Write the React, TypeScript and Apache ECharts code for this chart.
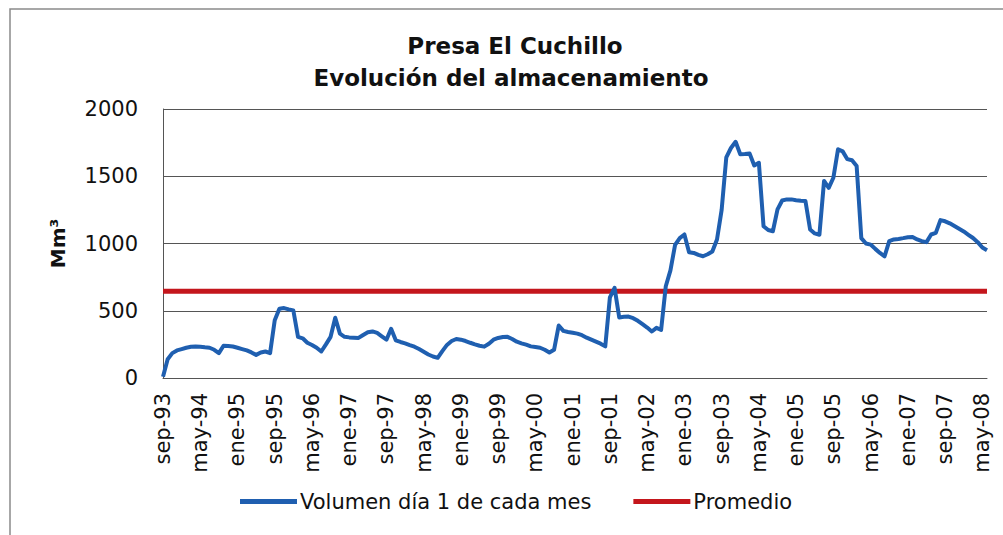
import React, { useEffect, useRef } from "react";
import * as echarts from "echarts";

const monthNames = ["ene", "feb", "mar", "abr", "may", "jun", "jul", "ago", "sep", "oct", "nov", "dic"];
const startMonth = 8; // sep
const startYear = 93;
const monthCount = 178;
const categories: string[] = [];
for (let i = 0; i < monthCount; i++) {
  const m = (startMonth + i) % 12;
  const y = (startYear + Math.floor((startMonth + i) / 12)) % 100;
  categories.push(monthNames[m] + "-" + String(y).padStart(2, "0"));
}

const volumen = [
  10, 140, 185, 205, 215, 225, 232, 235, 232, 228, 225, 210,
  185, 240, 238, 234, 225, 215, 205, 190, 172, 190, 197, 185,
  430, 515, 520, 510, 502, 306, 295, 262, 245, 225, 197, 250,
  306, 448, 330, 306, 302, 300, 298, 320, 340, 346, 335, 310,
  285, 366, 280, 268, 258, 245, 233, 215, 195, 175, 160, 150,
  200, 246, 275, 290, 285, 275, 262, 250, 240, 233, 255, 285,
  298, 305, 306, 290, 270, 258, 248, 235, 230, 225, 210, 190,
  210, 390, 350, 342, 336, 330, 318, 300, 285, 270, 255, 235,
  600, 670, 450, 455, 457, 445, 425, 400, 375, 346, 373, 358,
  682, 800, 990, 1040, 1067, 935, 930, 915, 905, 920, 940, 1030,
  1250, 1640, 1710, 1756, 1664, 1665, 1670, 1580, 1600, 1128, 1100, 1091,
  1254, 1320, 1328, 1328, 1322, 1318, 1316, 1104, 1075, 1065, 1465, 1414,
  1489, 1701, 1685, 1627, 1619, 1576, 1040, 1000, 992, 960, 930, 905,
  1017, 1030, 1034, 1040, 1047, 1049, 1030, 1017, 1010, 1067, 1079, 1174,
  1165, 1150, 1130, 1110, 1090, 1065, 1041, 1010, 970, 950,
];

const promedioValue = 645;
const promedio = categories.map(() => promedioValue);

const yTicks = { min: 0, max: 2000, interval: 500 };

export default function App() {
  const ref = useRef<HTMLDivElement>(null);
  useEffect(() => {
    if (!ref.current) return;
    const chart = echarts.init(ref.current, null, { renderer: "svg" });
    const font = "DejaVu Sans";
    chart.setOption({
      animation: false,
      backgroundColor: "#ffffff",
      textStyle: { fontFamily: font },
      grid: { left: 163, top: 109, right: 16, bottom: 157, containLabel: false },
      graphic: [
        {
          type: "rect",
          shape: { x: 10, y: 9, width: 1010, height: 560 },
          style: { fill: "none", stroke: "#8a8a8a", lineWidth: 1.5 },
          silent: true,
        },
        {
          type: "text",
          x: 515,
          y: 46,
          style: {
            text: "Presa El Cuchillo",
            font: "bold 23px 'DejaVu Sans'",
            fill: "#111",
            textAlign: "center",
            textVerticalAlign: "middle",
          },
        },
        {
          type: "text",
          x: 511,
          y: 78,
          style: {
            text: "Evolución del almacenamiento",
            font: "bold 23px 'DejaVu Sans'",
            fill: "#111",
            textAlign: "center",
            textVerticalAlign: "middle",
          },
        },
      ],
      legend: {
        bottom: 18,
        left: 235,
        itemWidth: 57,
        itemHeight: 5,
        itemGap: 42,
        icon: "rect",
        textStyle: { fontFamily: font, fontSize: 21, color: "#111", padding: [0, 0, 0, -2] },
        data: ["Volumen día 1 de cada mes", "Promedio"],
      },
      xAxis: {
        type: "category",
        data: categories,
        boundaryGap: false,
        axisLine: { show: true, lineStyle: { color: "#555", width: 1 } },
        axisTick: { show: false },
        axisLabel: {
          interval: 7,
          rotate: 90,
          fontFamily: font,
          fontSize: 21,
          color: "#111",
          margin: 15,
        },
        splitLine: { show: false },
      },
      yAxis: {
        type: "value",
        min: yTicks.min,
        max: yTicks.max,
        interval: yTicks.interval,
        name: "Mm³",
        nameLocation: "middle",
        nameGap: 95,
        nameTextStyle: { fontFamily: font, fontSize: 20, fontWeight: "bold", color: "#111" },
        axisLine: { show: true, lineStyle: { color: "#555", width: 1 } },
        axisTick: { show: false },
        axisLabel: {
          fontFamily: font,
          fontSize: 21,
          color: "#111",
          margin: 25,
          formatter: (v: number) => String(v),
        },
        splitLine: { show: true, lineStyle: { color: "#555", width: 1 } },
      },
      series: [
        {
          name: "Volumen día 1 de cada mes",
          type: "line",
          data: volumen,
          showSymbol: false,
          symbol: "none",
          itemStyle: { color: "#1f5fb0" },
          lineStyle: { color: "#1f5fb0", width: 4, join: "round" },
          z: 3,
        },
        {
          name: "Promedio",
          type: "line",
          data: promedio,
          showSymbol: false,
          symbol: "none",
          itemStyle: { color: "#c4161c" },
          lineStyle: { color: "#c4161c", width: 5 },
          z: 2,
        },
      ],
    });
    return () => chart.dispose();
  }, []);
  return (
    <div
      ref={ref}
      style={{ position: "fixed", left: 0, top: 0, width: 1003, height: 535 }}
    />
  );
}
